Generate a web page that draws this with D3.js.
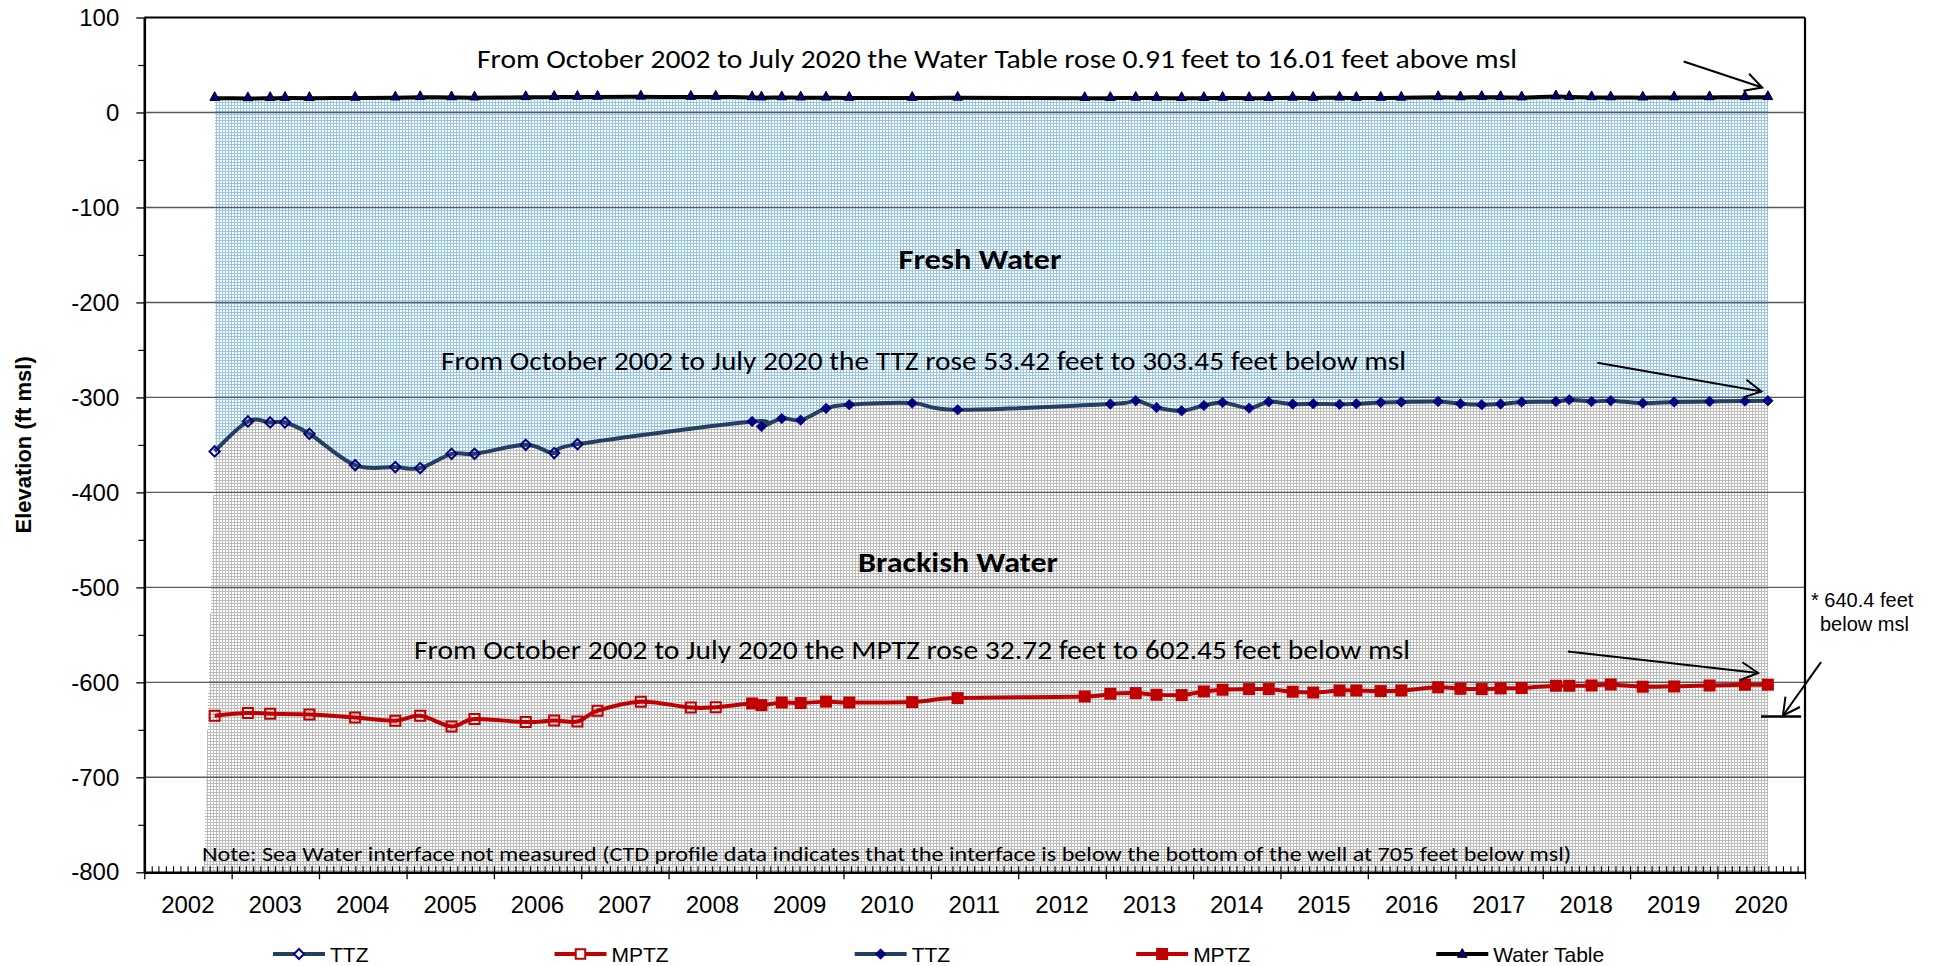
<!DOCTYPE html>
<html>
<head>
<meta charset="utf-8">
<script src="https://cdn.jsdelivr.net/npm/d3@7"></script>
<style>
html,body{margin:0;padding:0;background:#ffffff;overflow:hidden;}
svg{display:block;}
</style>
</head>
<body>
<svg id="chart" width="1955" height="966"></svg>
<script>
// ---------------- DATA ----------------
const sampleDates = ["2002-10-22","2003-03-10","2003-06-11","2003-08-12","2003-11-22","2004-05-31","2004-11-15","2005-02-27","2005-07-08","2005-10-12","2006-05-14","2006-09-10","2006-12-16","2007-03-10","2007-09-07","2008-04-03","2008-07-16","2008-12-15","2009-01-23","2009-04-18","2009-07-06","2009-10-20","2010-01-25","2010-10-15","2011-04-23","2012-10-05","2013-01-20","2013-05-06","2013-08-01","2013-11-14","2014-02-15","2014-05-04","2014-08-23","2014-11-13","2015-02-21","2015-05-18","2015-09-05","2015-11-14","2016-02-24","2016-05-20","2016-10-21","2017-01-22","2017-04-21","2017-07-09","2017-10-05","2018-02-25","2018-04-22","2018-07-24","2018-10-12","2019-02-23","2019-07-04","2019-11-29","2020-04-25","2020-07-30"];

const ttzValues = [-356.87,-325.3,-326.4,-326.4,-338.3,-371.3,-373.4,-374.4,-359.4,-359.4,-349.9,-358.6,-349.2,null,null,null,null,-325.3,-330.6,-322.2,-323.9,-311.6,-307.7,-306.0,-313.0,null,-307.0,-303.5,-310.6,-314.1,-308.5,-305.3,-311.3,-304.6,-307.0,-306.7,-307.3,-306.7,-305.3,-304.9,-304.3,-306.7,-307.7,-307.0,-304.9,-304.3,-302.5,-304.3,-303.5,-306.0,-304.9,-304.3,-303.9,-303.45];

const mptzValues = [-635.17,-632.4,-633.1,null,-633.8,-637.0,-640.4,-635.2,-646.4,-638.7,-641.8,-640.1,-641.2,-629.9,-620.4,-626.5,-626.1,-622.2,-624.0,-621.2,-621.8,-620.3,-621.2,-620.8,-616.6,-614.9,-612.0,-611.3,-613.1,-613.4,-609.6,-607.8,-607.1,-607.1,-609.9,-610.7,-608.6,-608.6,-609.2,-608.6,-605.2,-606.8,-607.1,-606.4,-606.0,-603.6,-603.6,-603.3,-602.2,-604.6,-604.3,-603.3,-602.5,-602.45];

const waterTableValues = [15.10,14.8,15.0,15.2,15.0,15.3,15.6,16.0,15.8,15.6,16.0,16.2,16.3,16.4,16.5,16.3,16.4,15.9,15.6,15.8,15.6,15.5,15.3,15.2,15.4,15.0,15.1,15.3,15.2,15.0,15.1,15.3,15.0,15.2,15.4,15.3,15.5,15.2,15.3,15.4,16.0,15.8,16.1,16.0,15.7,16.8,16.2,15.9,15.8,15.6,15.8,15.9,16.0,16.01];

// samples from this date on are drawn with filled markers (second TTZ / MPTZ series)
const filledMarkerStart = "2008-12-01";
const grayBaseStart = "2002-09-07";

const yearLabels = ["2002","2003","2004","2005","2006","2007","2008","2009","2010","2011","2012","2013","2014","2015","2016","2017","2018","2019","2020"];
const yTickValues = [100,0,-100,-200,-300,-400,-500,-600,-700,-800];
const yMinorValues = [50,-50,-150,-250,-350,-450,-550,-650,-750];
const gridValues = [0,-100,-200,-300,-400,-500,-600,-700];

const legendLabels = ["TTZ","MPTZ","TTZ","MPTZ","Water Table"];
const legendKinds = ["ttzOpen","mptzOpen","ttzFilled","mptzFilled","wt"];

const noteWT = "From October 2002 to July 2020 the Water Table rose 0.91 feet to 16.01 feet above msl";
const noteTTZ = "From October 2002 to July 2020 the TTZ rose 53.42 feet to 303.45 feet below msl";
const noteMPTZ = "From October 2002 to July 2020 the MPTZ rose 32.72 feet to 602.45 feet below msl";
const noteSea = "Note: Sea Water interface not measured (CTD profile data indicates that the interface is below the bottom of the well at 705 feet below msl)";
const zoneFresh = "Fresh Water";
const zoneBrackish = "Brackish Water";
const sideNote = ["* 640.4 feet","below msl"];
const yTitle = "Elevation (ft msl)";

// ---------------- SETUP ----------------
const parse = d3.timeParse("%Y-%m-%d");
const plot = {left:144.3, right:1805, top:17.5, bottom:872.3};
const x = d3.scaleTime().domain([new Date(2002,0,1), new Date(2021,0,1)]).range([plot.left, plot.right]);
const y = d3.scaleLinear().domain([-800,100]).range([plot.bottom, plot.top]);
const svg = d3.select("#chart");
const ARIAL = "Arial, 'Liberation Sans', sans-serif";
const CAL = "Carlito, Calibri, Lato, 'Open Sans', sans-serif";

const C_TTZ_LINE = "#243F60", C_NAVY = "#000080", C_RED = "#C00000";

const defs = svg.append("defs");
function pattern(id, lineColor){
  const p = defs.append("pattern").attr("id",id).attr("patternUnits","userSpaceOnUse")
    .attr("width",3).attr("height",3);
  p.append("rect").attr("width",3).attr("height",3).attr("fill",lineColor);
  p.append("rect").attr("x",1).attr("y",1).attr("width",2).attr("height",2).attr("fill","#ffffff");
}
pattern("bluePat","#97C4EB");
pattern("grayPat","#BCBCBC");

const records = sampleDates.map((s,i)=>({date:parse(s), ttz:ttzValues[i], mptz:mptzValues[i], wt:waterTableValues[i]}));
const ttzRecs = records.filter(d=>d.ttz!=null);
const mptzRecs = records.filter(d=>d.mptz!=null);
const split = parse(filledMarkerStart);

// ---------------- AREAS ----------------
svg.append("path").datum(records)
  .attr("fill","url(#bluePat)").attr("shape-rendering","crispEdges")
  .attr("d", d3.area().x(d=>x(d.date)).y0(y(-800)).y1(d=>y(d.wt)));

const grayPts = ttzRecs.map(d=>[x(d.date), y(d.ttz)]);
grayPts.push([x(ttzRecs[ttzRecs.length-1].date), y(-800)]);
grayPts.push([x(parse(grayBaseStart)), y(-800)]);
svg.append("path").attr("d", d3.line()(grayPts)+"Z")
  .attr("fill","url(#grayPat)").attr("shape-rendering","crispEdges");

// ---------------- GRID ----------------
svg.append("g").selectAll("line").data(gridValues).join("line")
  .attr("x1",plot.left).attr("x2",plot.right)
  .attr("y1",d=>y(d)).attr("y2",d=>y(d))
  .attr("stroke","#5a5a5a").attr("stroke-width",1.4);

// top and right border
svg.append("line").attr("x1",plot.left).attr("x2",plot.right).attr("y1",y(100)).attr("y2",y(100))
  .attr("stroke","#000").attr("stroke-width",2);
svg.append("line").attr("x1",plot.right).attr("x2",plot.right).attr("y1",y(100)).attr("y2",y(-800))
  .attr("stroke","#000").attr("stroke-width",2.2);

// ---------------- TEXT ON PLOT ----------------
function calText(str, x0, baseline, size, width, weight, anchor){
  const t = svg.append("text").attr("x",x0).attr("y",baseline)
    .attr("font-family",CAL).attr("font-size",size).attr("font-weight",weight||"normal")
    .attr("fill","#000").attr("text-anchor",anchor||"start").text(str);
  t.attr("textLength",width).attr("lengthAdjust","spacingAndGlyphs");
  return t;
}
calText(noteSea, 202, 861, 20, 1369);
calText(noteWT, 477, 68, 26, 1040);
calText(noteTTZ, 441, 370, 26, 965);
calText(noteMPTZ, 414, 659, 26, 996);
calText(zoneFresh, 980, 269, 29, 163, "bold", "middle");
calText(zoneBrackish, 958, 572, 29, 200, "bold", "middle");

// ---------------- LINES ----------------
const smooth = acc => d3.line().curve(d3.curveCatmullRom.alpha(0)).x(d=>x(d.date)).y(d=>y(acc(d)));
svg.append("path").datum(records).attr("fill","none").attr("stroke","#000").attr("stroke-width",4)
  .attr("d", smooth(d=>d.wt));
svg.append("path").datum(ttzRecs).attr("fill","none").attr("stroke",C_TTZ_LINE).attr("stroke-width",4)
  .attr("d", smooth(d=>d.ttz));
svg.append("path").datum(mptzRecs).attr("fill","none").attr("stroke",C_RED).attr("stroke-width",4)
  .attr("d", smooth(d=>d.mptz));

// ---------------- MARKERS ----------------
const diamond = r => `M0,${-r}L${r},0L0,${r}L${-r},0Z`;
const square = s => `M${-s/2},${-s/2}h${s}v${s}h${-s}Z`;
const triangle = "M0,-5.5L4.8,3.3L-4.8,3.3Z";

function drawMarker(g, kind){
  if(kind==="ttzOpen") g.append("path").attr("d",diamond(5.2)).attr("fill","none").attr("stroke",C_NAVY).attr("stroke-width",2);
  else if(kind==="ttzFilled") g.append("path").attr("d",diamond(5.2)).attr("fill",C_NAVY).attr("stroke",C_NAVY).attr("stroke-width",0.8);
  else if(kind==="mptzOpen") g.append("path").attr("d",square(10)).attr("fill","none").attr("stroke",C_RED).attr("stroke-width",2);
  else if(kind==="mptzFilled") g.append("path").attr("d",square(12)).attr("fill",C_RED).attr("stroke","none");
  else if(kind==="wt") g.append("path").attr("d",triangle).attr("fill",C_NAVY).attr("stroke","#000").attr("stroke-width",1);
}

svg.append("g").selectAll("g").data(ttzRecs).join("g")
  .attr("transform",d=>`translate(${x(d.date)},${y(d.ttz)})`)
  .each(function(d){ drawMarker(d3.select(this), d.date < split ? "ttzOpen" : "ttzFilled"); });
svg.append("g").selectAll("g").data(mptzRecs).join("g")
  .attr("transform",d=>`translate(${x(d.date)},${y(d.mptz)})`)
  .each(function(d){ drawMarker(d3.select(this), d.date < split ? "mptzOpen" : "mptzFilled"); });
svg.append("g").selectAll("g").data(records).join("g")
  .attr("transform",d=>`translate(${x(d.date)},${y(d.wt)-1})`)
  .each(function(){ drawMarker(d3.select(this), "wt"); });

// ---------------- AXES ----------------
const gyMinor = svg.append("g").attr("transform",`translate(${plot.left},0)`)
  .call(d3.axisLeft(y).tickValues(yMinorValues).tickSize(6).tickFormat(""));
gyMinor.select(".domain").remove();
gyMinor.selectAll("line").attr("stroke","#000").attr("stroke-width",1.2);

const gy = svg.append("g").attr("transform",`translate(${plot.left},0)`)
  .call(d3.axisLeft(y).tickValues(yTickValues).tickSize(8).tickSizeOuter(0).tickPadding(17).tickFormat(d=>String(d)));
gy.select(".domain").attr("stroke","#000").attr("stroke-width",2.6);
gy.selectAll(".tick line").attr("stroke","#000").attr("stroke-width",1.3);
gy.selectAll("text").attr("font-family",ARIAL).attr("font-size",24).attr("fill","#000");

const gxMinor = svg.append("g").attr("transform",`translate(0,${plot.bottom})`)
  .call(d3.axisBottom(x).tickValues(d3.timeMonth.range(new Date(2002,0,1), new Date(2021,0,2))).tickSize(-6).tickFormat(""));
gxMinor.select(".domain").remove();
gxMinor.selectAll("line").attr("stroke","#000").attr("stroke-width",1.1);

const gx = svg.append("g").attr("transform",`translate(0,${plot.bottom})`)
  .call(d3.axisBottom(x).tickValues(d3.timeYear.range(new Date(2002,0,1), new Date(2021,0,2))).tickSize(7).tickSizeOuter(0).tickFormat(""));
gx.select(".domain").attr("stroke","#000").attr("stroke-width",2.6);
gx.selectAll(".tick line").attr("stroke","#000").attr("stroke-width",1.3);

svg.append("g").selectAll("text").data(yearLabels).join("text")
  .attr("x",d=>x(new Date(+d,6,2))).attr("y",913)
  .attr("text-anchor","middle").attr("font-family",ARIAL).attr("font-size",24).attr("fill","#000")
  .text(d=>d);

svg.append("text").attr("transform",`translate(31,${(plot.top+plot.bottom)/2}) rotate(-90)`)
  .attr("text-anchor","middle").attr("font-family",ARIAL).attr("font-size",22).attr("font-weight","bold")
  .text(yTitle);

// ---------------- ARROWS ----------------
const arrowNotes = [
  {from:["2019-08-13",53.7], to:["2020-07-06",26.3]},
  {from:["2018-08-17",-263.5], to:["2020-07-03",-293.7]},
  {from:["2018-04-16",-567.5], to:["2020-06-19",-590.2]},
  {from:["2021-03-09",-578.7], to:["2020-10-01",-634.9]}
];
const ga = svg.append("g").attr("stroke","#000").attr("stroke-width",2).attr("fill","none");
arrowNotes.forEach(a=>{
  const x1=x(parse(a.from[0])), y1=y(a.from[1]), x2=x(parse(a.to[0])), y2=y(a.to[1]);
  const ang=Math.atan2(y2-y1,x2-x1), L=19, th=28*Math.PI/180;
  ga.append("line").attr("x1",x1).attr("y1",y1).attr("x2",x2).attr("y2",y2);
  ga.append("path").attr("d",
    `M${x2+L*Math.cos(ang+Math.PI-th)},${y2+L*Math.sin(ang+Math.PI-th)}L${x2},${y2}L${x2+L*Math.cos(ang+Math.PI+th)},${y2+L*Math.sin(ang+Math.PI+th)}`);
});
ga.append("line").attr("x1",x(parse("2020-07-01"))).attr("x2",x(parse("2020-12-16")))
  .attr("y1",y(-635.9)).attr("y2",y(-635.9)).attr("stroke-width",2.4);

svg.append("text").attr("x",1811).attr("y",607).attr("font-family",ARIAL).attr("font-size",20).text(sideNote[0]);
svg.append("text").attr("x",1820).attr("y",631).attr("font-family",ARIAL).attr("font-size",20).text(sideNote[1]);

// ---------------- LEGEND ----------------
const legend = svg.append("g");
let lx = 273;
legendLabels.forEach((lab,i)=>{
  const g = legend.append("g").attr("transform",`translate(${lx},954)`);
  const kind = legendKinds[i];
  const col = kind.startsWith("ttz") ? C_TTZ_LINE : (kind.startsWith("mptz") ? C_RED : "#000");
  g.append("line").attr("x1",0).attr("x2",52).attr("y1",0).attr("y2",0).attr("stroke",col).attr("stroke-width",4);
  const m = g.append("g").attr("transform","translate(26,0)");
  if(kind==="ttzOpen") m.append("path").attr("d",diamond(5)).attr("fill","#fff").attr("stroke",C_NAVY).attr("stroke-width",2);
  else if(kind==="mptzOpen") m.append("path").attr("d",square(9.5)).attr("fill","#fff").attr("stroke",C_RED).attr("stroke-width",2);
  else drawMarker(m, kind);
  const t = g.append("text").attr("x",57).attr("y",7.5).attr("font-family",ARIAL).attr("font-size",21).attr("fill","#000").text(lab);
  lx += 243 + t.node().getComputedTextLength();
});
</script>
</body>
</html>
